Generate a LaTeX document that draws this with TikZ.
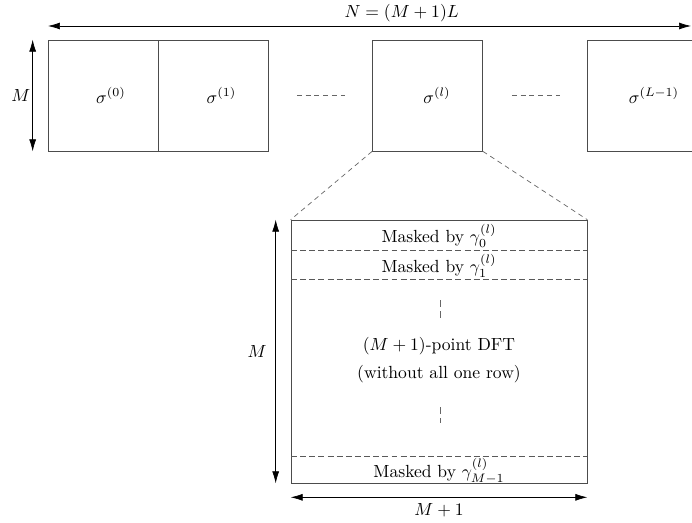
\documentclass[tikz,border=0pt]{standalone}
\usepackage{amsmath}
\usepackage{amssymb}
\usepackage{tikz}
\usetikzlibrary{arrows.meta,positioning,calc}
\tikzset{%
  blk/.style={draw=black!70,minimum width=2.2cm,minimum height=2.22cm,inner sep=0pt},
  bigblk/.style={draw=black!70,minimum width=5.92cm,minimum height=5.26cm,inner sep=0pt},
  dim/.style={{Latex[length=2.4mm,width=1.4mm]}-{Latex[length=2.4mm,width=1.4mm]}, black},
  sep/.style={draw=black!60,dash pattern=on 2.8pt off 2.2pt},
  row/.style={draw=black!65,dash pattern=on 3.4pt off 1.8pt},
  vdots/.style={draw=black!60,dash pattern=on 4pt off 2.5pt}%
}

\begin{document}
\begin{tikzpicture}[
    x=0.02cm, y=-0.02cm
]
\useasboundingbox (0,0) rectangle (692,523);

% Top row of blocks
\node[blk, label={[xshift=0.16cm]center:$\sigma^{(0)}$}] (b0) at (103,95.5) {};
\node[blk, label={[xshift=0.16cm]center:$\sigma^{(1)}$}] (b1) at (213.5,95.5) {};
\node[blk, label={[xshift=0.19cm]center:$\sigma^{(l)}$}] (bl) at (427.5,95.5) {};
\node[blk, label={[xshift=0.24cm]center:$\sigma^{(L-1)}$}] (bL) at (642,95.5) {};

\draw[sep] ($(b1.east)+(28,0)$) -- ($(bl.west)+(-27,0)$);
\draw[sep] ($(bl.east)+(29,0)$) -- ($(bL.west)+(-27,0)$);

% Dimensions of the top row
\coordinate (nL) at (48,26);
\coordinate (nR) at (691,26);
\draw[dim] (nL) -- node[above, pos=0.55, yshift=-1pt] {$N=(M+1)L$} (nR);
\draw[dim] ([xshift=-0.3cm]b0.north west) -- node[left, xshift=0.08cm] {$M$} ([xshift=-0.3cm]b0.south west);

% Zoomed block
\node[bigblk] (big) at (439,351.5) {};
\draw[sep] (bl.south west) -- (big.north west);
\draw[sep] (bl.south east) -- (big.north east);

\draw[row] (291,250) -- (587,250);
\draw[row] (291,279) -- (587,279);
\draw[row] (291,456) -- (587,456);

\node[anchor=base] (m0) at (439,243) {Masked by $\gamma_0^{(l)}$};
\node[anchor=base] (m1) at (439,273) {Masked by $\gamma_1^{(l)}$};
\node[anchor=base] (dft) at (439,350) {$(M+1)$-point DFT};
\node[anchor=base] (wo) at (439,378) {(without all one row)};
\node[anchor=base] (mM) at (439,477) {Masked by $\gamma_{M-1}^{(l)}$};

\draw[vdots] (440,300) -- (440,318);
\draw[vdots] (440,407) -- (440,423);

% Dimensions of the zoomed block
\draw[dim] ([xshift=-0.3cm]big.north west) -- node[left=0.06cm] {$M$} ([xshift=-0.3cm]big.south west);
\draw[dim] ([yshift=-0.28cm]big.south west) -- node[below] {$M+1$} ([yshift=-0.28cm]big.south east);

\end{tikzpicture}
\end{document}
